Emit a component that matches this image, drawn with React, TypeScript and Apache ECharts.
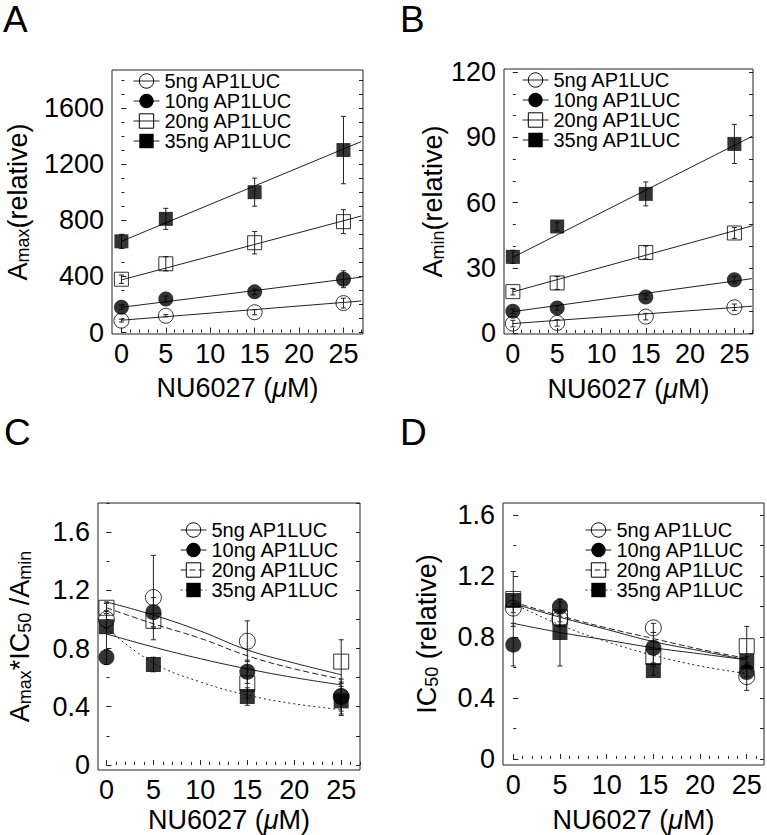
import React, { useEffect, useRef } from "react";
import * as echarts from "echarts";

const FONT = '"Liberation Sans", Arial, Helvetica, sans-serif';

// ---------- shared ----------
const doses = [0, 5, 15, 25];
const doseTicks = [0, 5, 10, 15, 20, 25];
const doseMinorTicks = [0, 1, 2, 3, 4, 5, 6, 7, 8, 9, 10, 11, 12, 13, 14, 15, 16, 17, 18, 19, 20, 21, 22, 23, 24, 25, 26, 27];
const groupLabels = ["5ng AP1LUC", "10ng AP1LUC", "20ng AP1LUC", "35ng AP1LUC"];
const fitXLinear = [0, 27];
const fitXCurve = [0, 5, 10, 15, 20, 25];

// ---------- Panel A : Amax ----------
const aMaxTicks = [0, 400, 800, 1200, 1600];
const aMaxMinorTicks = [0, 100, 200, 300, 400, 500, 600, 700, 800, 900, 1000, 1100, 1200, 1300, 1400, 1500, 1600, 1700, 1800];
const aMax5ng = [85, 120, 145, 210];
const aMax10ng = [180, 240, 290, 380];
const aMax20ng = [380, 490, 640, 790];
const aMax35ng = [650, 810, 1000, 1300];
const aMax5ngErr = [10, 8, 18, 35];
const aMax10ngErr = [15, 20, 20, 60];
const aMax20ngErr = [30, 50, 80, 85];
const aMax35ngErr = [50, 75, 100, 240];
const aMaxFit5ng = [88, 225];
const aMaxFit10ng = [180, 395];
const aMaxFit20ng = [375, 830];
const aMaxFit35ng = [650, 1360];

// ---------- Panel B : Amin ----------
const aMinTicks = [0, 30, 60, 90, 120];
const aMinMinorTicks = [0, 10, 20, 30, 40, 50, 60, 70, 80, 90, 100, 110, 120];
const aMin5ng = [4.3, 4.6, 7.5, 11.8];
const aMin10ng = [10, 11.5, 16.5, 24.5];
const aMin20ng = [19, 23, 37, 46];
const aMin35ng = [35, 49, 64, 87];
const aMin5ngErr = [1.5, 1.5, 1.5, 1.5];
const aMin10ngErr = [1, 1, 1, 1.5];
const aMin20ngErr = [1.5, 3, 3, 2.5];
const aMin35ngErr = [3, 2, 5.5, 9];
const aMinFit5ng = [4.3, 12.3];
const aMinFit10ng = [9.8, 25];
const aMinFit20ng = [18.9, 49.3];
const aMinFit35ng = [34.8, 90.5];

// ---------- Panel C : Amax*IC50/Amin ----------
const ratioTicks = [0, 0.4, 0.8, 1.2, 1.6];
const ratioMinorTicks = [0, 0.2, 0.4, 0.6, 0.8, 1.0, 1.2, 1.4, 1.6, 1.8];
const prod5ng = [1.0, 1.15, 0.85, 0.47];
const prod10ng = [0.74, 1.05, 0.64, 0.47];
const prod20ng = [1.08, 0.99, 0.56, 0.71];
const prod35ng = [0.95, 0.69, 0.47, 0.44];
const prod5ngErr = [0.06, 0.29, 0.14, 0.12];
const prod10ngErr = [0.05, 0.1, 0.08, 0.1];
const prod20ngErr = [0.04, 0.05, 0.1, 0.15];
const prod35ngErr = [0.16, 0.05, 0.06, 0.1];
const prodFit5ng = [1.12, 1.03, 0.92, 0.79, 0.7, 0.62];
const prodFit10ng = [0.9, 0.81, 0.73, 0.66, 0.6, 0.55];
const prodFit20ng = [1.08, 0.97, 0.87, 0.75, 0.66, 0.59];
const prodFit35ng = [0.94, 0.7, 0.57, 0.48, 0.42, 0.38];

// ---------- Panel D : IC50 ----------
const ic5ng = [0.99, 0.92, 0.86, 0.54];
const ic10ng = [0.75, 1.0, 0.73, 0.57];
const ic20ng = [1.05, 0.93, 0.67, 0.74];
const ic35ng = [1.04, 0.83, 0.58, 0.64];
const ic5ngErr = [0.03, 0.05, 0.03, 0.09];
const ic10ngErr = [0.14, 0.03, 0.1, 0.03];
const ic20ngErr = [0.18, 0.03, 0.05, 0.13];
const ic35ngErr = [0.03, 0.22, 0.03, 0.03];
const icFit5ng = [1.02, 0.93, 0.85, 0.77, 0.71, 0.65];
const icFit10ng = [0.89, 0.83, 0.78, 0.73, 0.69, 0.65];
const icFit20ng = [1.03, 0.94, 0.86, 0.79, 0.72, 0.66];
const icFit35ng = [1.02, 0.88, 0.77, 0.68, 0.61, 0.56];

const symbols = ["circle", "circle", "rect", "rect"];
const fills = ["none", "#000", "none", "#000"];

type Panel = {
  key: string;
  grid: { left: number; top: number; width: number; height: number };
  xRange: [number, number];
  yRange: [number, number];
  yTicks: number[];
  yMinor: number[];
  yName: string;
  yNameGap: number;
  xNameGap: number;
  means: number[][];
  errs: number[][];
  fitX: number[];
  fits: number[][];
  dashes: any[];
  smooth: boolean;
  legend: { left: number; top: number };
  subLH: number;
  marker: number;
};

const panels: Panel[] = [
  {
    key: "A",
    grid: { left: 112, top: 70, width: 251, height: 264 },
    xRange: [-1.06, 27.2],
    yRange: [-10, 1870],
    yTicks: aMaxTicks,
    yMinor: aMaxMinorTicks,
    yName: "{a|A}{s|max}{a|(relative)}",
    yNameGap: 80,
    xNameGap: 40,
    means: [aMax5ng, aMax10ng, aMax20ng, aMax35ng],
    errs: [aMax5ngErr, aMax10ngErr, aMax20ngErr, aMax35ngErr],
    fitX: fitXLinear,
    fits: [aMaxFit5ng, aMaxFit10ng, aMaxFit20ng, aMaxFit35ng],
    dashes: ["solid", "solid", "solid", "solid"],
    smooth: false,
    legend: { left: 133, top: 71 },
    subLH: 22,
    marker: 15,
  },
  {
    key: "B",
    grid: { left: 504, top: 69, width: 249, height: 265 },
    xRange: [-1.0, 27.1],
    yRange: [-0.5, 121.5],
    yTicks: aMinTicks,
    yMinor: aMinMinorTicks,
    yName: "{a|A}{s|min}{a|(relative)}",
    yNameGap: 52,
    xNameGap: 41,
    means: [aMin5ng, aMin10ng, aMin20ng, aMin35ng],
    errs: [aMin5ngErr, aMin10ngErr, aMin20ngErr, aMin35ngErr],
    fitX: fitXLinear,
    fits: [aMinFit5ng, aMinFit10ng, aMinFit20ng, aMinFit35ng],
    dashes: ["solid", "solid", "solid", "solid"],
    smooth: false,
    legend: { left: 522, top: 70 },
    subLH: 22,
    marker: 15,
  },
  {
    key: "C",
    grid: { left: 98, top: 503, width: 262, height: 267 },
    xRange: [-0.9, 27.0],
    yRange: [-0.035, 1.8],
    yTicks: ratioTicks,
    yMinor: ratioMinorTicks,
    yName: "{a|A}{s|max}{a|*IC}{s|50}{a| /A}{s|min}",
    yNameGap: 64,
    xNameGap: 36,
    means: [prod5ng, prod10ng, prod20ng, prod35ng],
    errs: [prod5ngErr, prod10ngErr, prod20ngErr, prod35ngErr],
    fitX: fitXCurve,
    fits: [prodFit5ng, prodFit10ng, prodFit20ng, prodFit35ng],
    dashes: ["solid", "solid", [6, 3], [2, 3]],
    smooth: true,
    legend: { left: 180, top: 520 },
    subLH: 14,
    marker: 16,
  },
  {
    key: "D",
    grid: { left: 503, top: 503, width: 261, height: 262 },
    xRange: [-1.1, 26.85],
    yRange: [-0.04, 1.68],
    yTicks: ratioTicks,
    yMinor: ratioMinorTicks.slice(0, 9),
    yName: "{a|IC}{s|50}{a| (relative)}",
    yNameGap: 62,
    xNameGap: 41,
    means: [ic5ng, ic10ng, ic20ng, ic35ng],
    errs: [ic5ngErr, ic10ngErr, ic20ngErr, ic35ngErr],
    fitX: fitXCurve,
    fits: [icFit5ng, icFit10ng, icFit20ng, icFit35ng],
    dashes: ["solid", "solid", [6, 3], [2, 3]],
    smooth: true,
    legend: { left: 585, top: 520 },
    subLH: 14,
    marker: 16,
  },
];

const panelLetters = [
  { t: "A", x: 3, y: 19 },
  { t: "B", x: 400, y: 19 },
  { t: "C", x: 4, y: 432 },
  { t: "D", x: 400, y: 432 },
];

function buildOption() {
  const grid: any[] = [];
  const xAxis: any[] = [];
  const yAxis: any[] = [];
  const series: any[] = [];
  const legend: any[] = [];
  const fmt = (v: number) => String(v);

  panels.forEach((p, pi) => {
    grid.push({ ...p.grid, show: true, borderColor: "#222", borderWidth: 1, backgroundColor: "transparent" });
    const nameRich = {
      a: { fontSize: 27, fontFamily: FONT, color: "#000", lineHeight: 28 },
      s: { fontSize: 18, fontFamily: FONT, color: "#000", verticalAlign: "bottom", lineHeight: p.subLH },
      i: { fontSize: 27, fontFamily: FONT, color: "#000", fontStyle: "italic", lineHeight: 28 },
    };
    xAxis.push({
      type: "value",
      gridIndex: pi,
      position: "bottom",
      min: p.xRange[0],
      max: p.xRange[1],
      axisLine: { show: false },
      splitLine: { show: false },
      axisTick: { show: true, inside: true, length: 5, customValues: doseTicks, lineStyle: { color: "#222", width: 1 } },
      axisLabel: { show: true, customValues: doseTicks, margin: 6, fontSize: 27, fontFamily: FONT, color: "#000", formatter: fmt },
      name: "{a|NU6027 (}{i|μ}{a|M)}",
      nameLocation: "middle",
      nameGap: p.xNameGap,
      nameTextStyle: { fontSize: 27, fontFamily: FONT, color: "#000", rich: nameRich },
    });
    xAxis.push({
      type: "value",
      gridIndex: pi,
      position: "bottom",
      min: p.xRange[0],
      max: p.xRange[1],
      axisLine: { show: false },
      splitLine: { show: false },
      axisLabel: { show: false },
      axisTick: { show: true, inside: true, length: 3, customValues: doseMinorTicks, lineStyle: { color: "#222", width: 1 } },
    });
    yAxis.push({
      type: "value",
      gridIndex: pi,
      position: "left",
      min: p.yRange[0],
      max: p.yRange[1],
      axisLine: { show: false },
      splitLine: { show: false },
      axisTick: { show: true, inside: true, length: 5, customValues: p.yTicks, lineStyle: { color: "#222", width: 1 } },
      axisLabel: { show: true, customValues: p.yTicks, margin: 8, fontSize: 27, fontFamily: FONT, color: "#000", formatter: fmt },
      name: p.yName,
      nameLocation: "middle",
      nameGap: p.yNameGap,
      nameTextStyle: { fontSize: 27, fontFamily: FONT, color: "#000", rich: nameRich },
    });
    yAxis.push({
      type: "value",
      gridIndex: pi,
      position: "left",
      min: p.yRange[0],
      max: p.yRange[1],
      axisLine: { show: false },
      splitLine: { show: false },
      axisLabel: { show: false },
      axisTick: { show: true, inside: true, length: 3, customValues: p.yMinor, lineStyle: { color: "#222", width: 1 } },
    });
    yAxis.push({
      type: "value",
      gridIndex: pi,
      position: "right",
      min: p.yRange[0],
      max: p.yRange[1],
      axisLine: { show: false },
      splitLine: { show: false },
      axisLabel: { show: false },
      axisTick: { show: true, inside: true, length: 4, customValues: p.yMinor, lineStyle: { color: "#222", width: 1 } },
    });

    const xi = pi * 2;
    const yi = pi * 3;

    for (let g = 0; g < 4; g++) {
      const name = `${p.key}${g}`;
      const filled = fills[g] !== "none";
      series.push({
        type: "line",
        name,
        xAxisIndex: xi,
        yAxisIndex: yi,
        data: p.fitX.map((x, k) => [x, p.fits[g][k]]),
        symbol: symbols[g],
        symbolSize: p.marker,
        showSymbol: false,
        smooth: p.smooth ? 0.4 : false,
        lineStyle: { color: "#222", width: 1, type: p.dashes[g] },
        itemStyle: { color: filled ? "#000" : "none", borderColor: "#000", borderWidth: filled ? 0 : 1 },
        silent: true,
        z: 2,
      });
      series.push({
        type: "custom",
        name: name + "err",
        xAxisIndex: xi,
        yAxisIndex: yi,
        data: doses.map((x, k) => [x, p.means[g][k] - p.errs[g][k], p.means[g][k] + p.errs[g][k]]),
        encode: { x: 0, y: [1, 2] },
        renderItem: (params: any, api: any) => {
          const x = api.value(0);
          const lo = api.coord([x, api.value(1)]);
          const hi = api.coord([x, api.value(2)]);
          const w = 2.5;
          const st = { stroke: "#222", lineWidth: 1 };
          return {
            type: "group",
            children: [
              { type: "line", shape: { x1: lo[0], y1: lo[1], x2: hi[0], y2: hi[1] }, style: st },
              { type: "line", shape: { x1: lo[0] - w, y1: lo[1], x2: lo[0] + w, y2: lo[1] }, style: st },
              { type: "line", shape: { x1: hi[0] - w, y1: hi[1], x2: hi[0] + w, y2: hi[1] }, style: st },
            ],
          };
        },
        silent: true,
        z: 3,
      });
      series.push({
        type: "scatter",
        name: name + "pts",
        xAxisIndex: xi,
        yAxisIndex: yi,
        data: doses.map((x, k) => [x, p.means[g][k]]),
        symbol: symbols[g],
        symbolSize: g >= 2 ? p.marker - 1 : p.marker,
        itemStyle: { color: filled ? "#000" : "none", borderColor: "#000", borderWidth: filled ? 0 : 1 },
        silent: true,
        z: 4,
      });
    }

    legend.push({
      orient: "vertical",
      left: p.legend.left,
      top: p.legend.top,
      itemWidth: 26,
      itemHeight: 18,
      itemGap: 0,
      padding: 0,
      selectedMode: false,
      textStyle: { fontSize: 20, fontFamily: FONT, color: "#000", lineHeight: 20 },
      formatter: (n: string) => groupLabels[Number(n.slice(1))],
      data: [0, 1, 2, 3].map((g) => ({
        name: `${p.key}${g}`,
        itemStyle: {
          color: fills[g] !== "none" ? "#000" : "none",
          borderColor: "#000",
          borderWidth: fills[g] !== "none" ? 0 : 1,
        },
        lineStyle: { color: "#222", width: 1, type: p.dashes[g] },
      })),
    });
  });

  return {
    animation: false,
    backgroundColor: "#fff",
    grid,
    xAxis,
    yAxis,
    series,
    legend,
    graphic: panelLetters.map((l) => ({
      type: "text",
      x: l.x,
      y: l.y,
      style: { text: l.t, fontSize: 37, fontFamily: FONT, fill: "#000", verticalAlign: "middle", align: "left" },
    })),
  };
}

export default function App() {
  const ref = useRef<HTMLDivElement>(null);
  useEffect(() => {
    if (!ref.current) return;
    const chart = echarts.init(ref.current, undefined, { renderer: "svg" });
    chart.setOption(buildOption() as any);
    return () => chart.dispose();
  }, []);
  return (
    <div
      ref={ref}
      style={{ position: "absolute", left: 0, top: 0, width: 767, height: 835, background: "#fff" }}
    />
  );
}
